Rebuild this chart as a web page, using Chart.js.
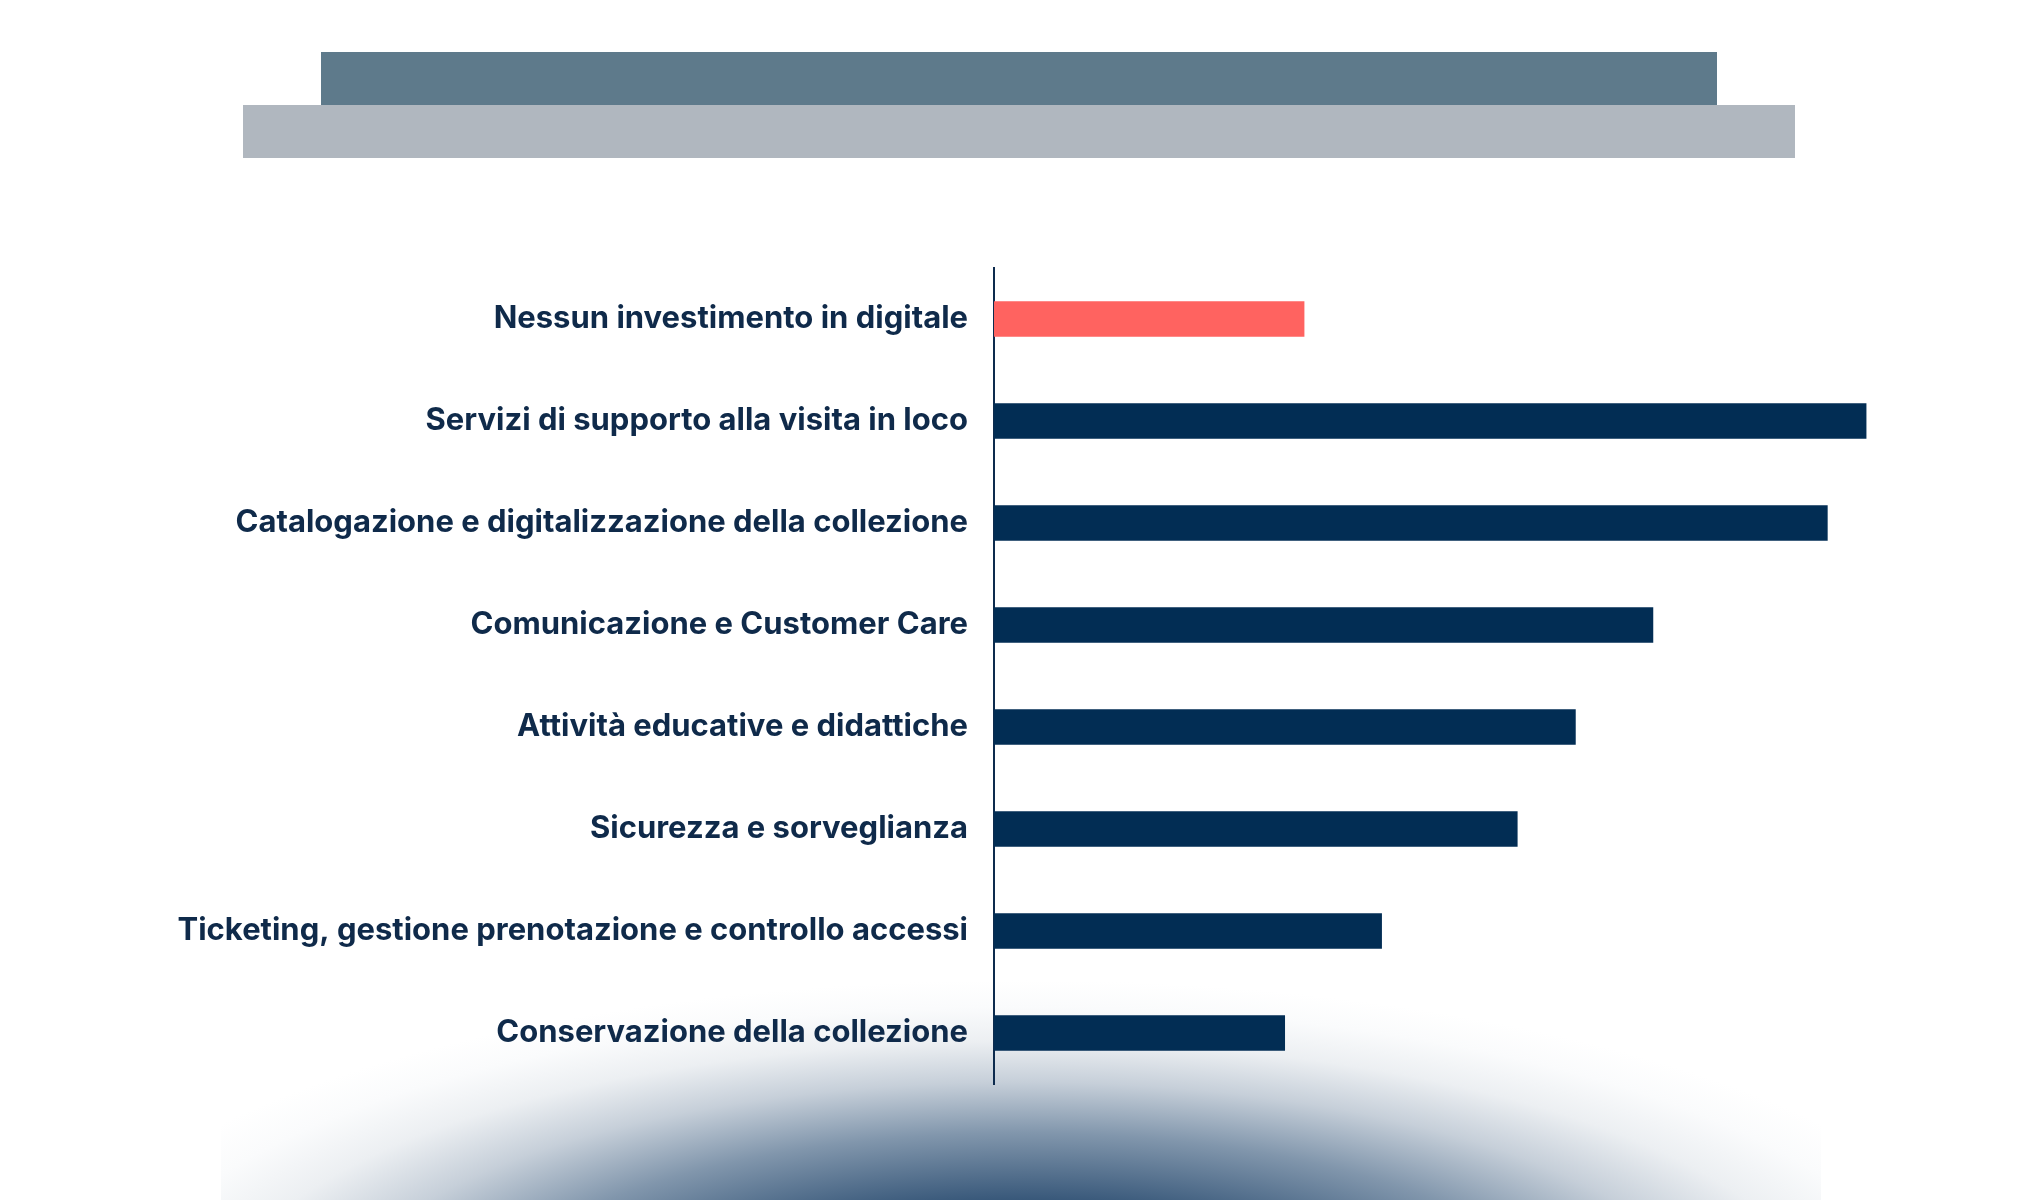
<!DOCTYPE html>
<html>
<head>
<meta charset="utf-8">
<script src="https://cdn.jsdelivr.net/npm/chart.js@4"></script>
<style>
  body { margin: 0; background: #fff; }
  #wrap { position: relative; width: 2040px; height: 1200px; overflow: hidden; }
  .band { position: absolute; }
  #glow {
    position: absolute; left: 221px; top: 960px; width: 1600px; height: 240px;
    background: radial-gradient(ellipse 980px 340px at 800px 360px,
      #1f4167 0%, #375779 35%, #8196ac 55%, #c6cfd9 70%, #eceff2 82%, #fafbfc 92%, rgba(255,255,255,0) 100%);
  }
  canvas { position: absolute; left: 0; top: 0; }
</style>
</head>
<body>
<div id="wrap">
  <div id="glow"></div>
  <div class="band" style="left:243px;top:105px;width:1552px;height:53px;background:#b0b7bf"></div>
  <div class="band" style="left:321px;top:52px;width:1396px;height:53px;background:#5e7a8b"></div>
  <canvas id="grafico" width="2040" height="1200"></canvas>
</div>
<script>
// categorie e valori (%)
var categorie = [
  'Nessun investimento in digitale',
  'Servizi di supporto alla visita in loco',
  'Catalogazione e digitalizzazione della collezione',
  'Comunicazione e Customer Care',
  'Attività educative e didattiche',
  'Sicurezza e sorveglianza',
  'Ticketing, gestione prenotazione e controllo accessi',
  'Conservazione della collezione'
];
var valori = [16, 45, 43, 34, 30, 27, 20, 15];
var colori = ['#ff6360', '#022d54', '#022d54', '#022d54', '#022d54', '#022d54', '#022d54', '#022d54'];

var ctx = document.getElementById('grafico');
var chartGraph = new Chart(ctx, {
    type: 'bar',
    data: {
        labels: categorie,
        datasets: [{
            data: valori,
            backgroundColor: colori,
            borderWidth: 0,
            barThickness: 35
        }]
    },
    options: {
        indexAxis: 'y',
        responsive: false,
        animation: false,
        layout: { padding: { left: 0, top: 268, right: 77, bottom: 116 } },
        plugins: {
            legend: { display: false },
            tooltip: { enabled: false }
        },
        scales: {
            x: { display: false, min: 0, max: 50 },
            y: {
                afterFit: function (s) { s.width = 994; },
                grid: { display: false, drawTicks: false },
                border: { display: true, color: '#0d2b4e', width: 2 },
                ticks: {
                    padding: 26,
                    color: '#0f2a4a',
                    font: { family: 'Inter', size: 31, weight: '700' }
                }
            }
        }
    }
});
</script>
</body>
</html>
